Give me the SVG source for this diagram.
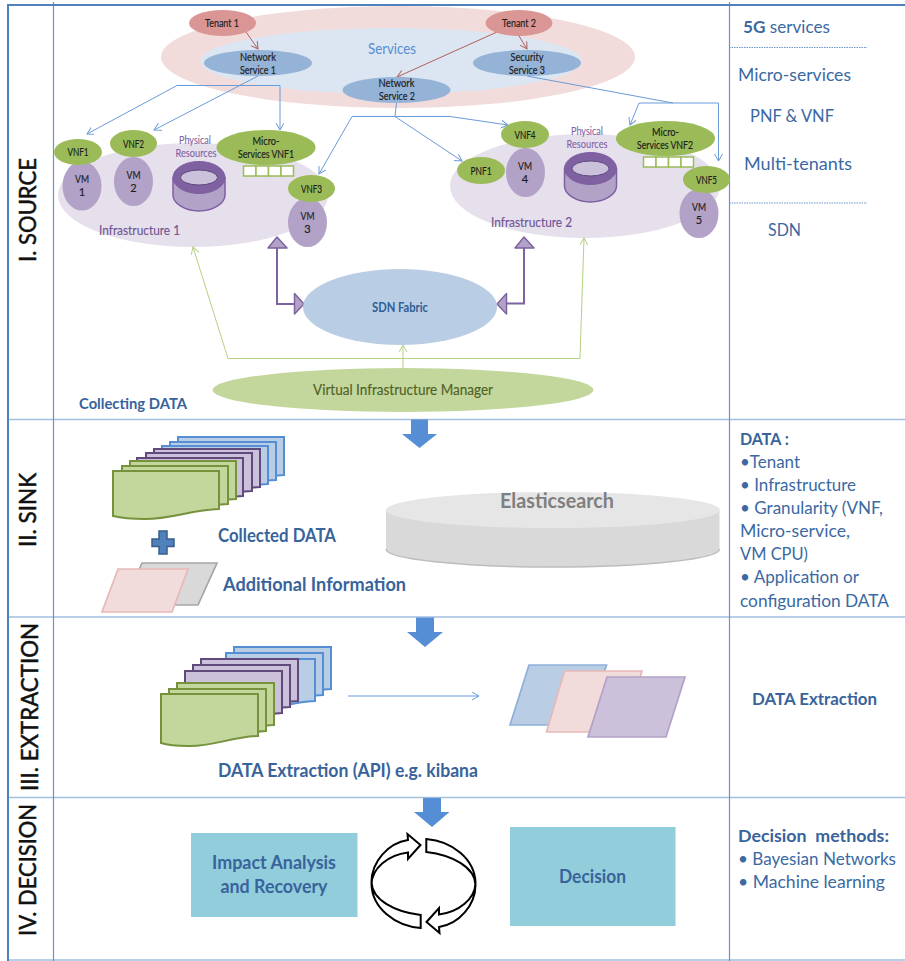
<svg xmlns="http://www.w3.org/2000/svg" xmlns:xlink="http://www.w3.org/1999/xlink" width="905" height="961" viewBox="0 0 905 961">
<style>
text{font-family:"Lato","Liberation Sans",sans-serif}
.sm{font-size:11px;fill:#1d1d1d;stroke:#1d1d1d;stroke-width:.18;text-anchor:middle}
.ph{font-size:11px;fill:#8063a5;stroke:#8063a5;stroke-width:.1;text-anchor:middle}
.inf{font-size:14px;fill:#6f5495;stroke:#6f5495;stroke-width:.15}
.title{font-size:24px;fill:#111;stroke:#111;stroke-width:.5}
.side{font-size:17.500px;fill:#3a69a3}
.bold{font-weight:700;fill:#38639b}
.vm{fill:#B3A2C7}
.vnf{fill:#9BBB59}
.ns{fill:#95B3D7}
.tenant{fill:#D99694}
.cell{fill:#fff;stroke:#9BBB59;stroke-width:1.5}
.grid{stroke:#6b93c8;stroke-width:1.2;fill:none}
.hgrid{stroke:#a3bfe0;stroke-width:1.5;fill:none}
.dot{stroke:#6b93c8;stroke-width:1;stroke-dasharray:1.5 1;fill:none}
.blue{stroke:#6a9bd8;stroke-width:1;fill:none}
.red{stroke:#b0605e;stroke-width:1;fill:none}
.green{stroke:#b5d184;stroke-width:1;fill:none}
.pur{stroke:#7d63a0;stroke-width:2;fill:none}
.tri{fill:#B3A2C7;stroke:#7d63a0;stroke-width:1.5;stroke-linejoin:round}
.block{fill:#558ED5}
.dg{fill:#C3D69B;stroke:#76923C;stroke-width:2}
.dp{fill:#CCC1DA;stroke:#604A7B;stroke-width:2}
.db{fill:#B9CDE5;stroke:#558ED5;stroke-width:2}
.loop{fill:none;stroke:#000;stroke-width:2;stroke-linejoin:miter}
</style>
<defs>
<marker id="ab" markerUnits="userSpaceOnUse" markerWidth="10" markerHeight="10" refX="7" refY="4" orient="auto"><path d="M0,0L7,4L0,8" fill="none" stroke="#6a9bd8" stroke-width="1"/></marker>
<marker id="ar" markerUnits="userSpaceOnUse" markerWidth="10" markerHeight="10" refX="7" refY="4" orient="auto"><path d="M0,0L7,4L0,8" fill="none" stroke="#b0605e" stroke-width="1"/></marker>
<marker id="ag" markerUnits="userSpaceOnUse" markerWidth="10" markerHeight="10" refX="7" refY="4" orient="auto"><path d="M0,0L7,4L0,8" fill="none" stroke="#b5d184" stroke-width="1"/></marker>
<path id="doc1" d="M0,0H106V38C78,39 58,48 32,48C18,48 8,47 0,45Z"/>
<path id="doc2" d="M0,0H97V42C70,43 50,53 27,52C15,52 6,51 0,49Z"/>
<g id="cyl">
<path d="M-26,0V17.500C-26,26 -14,33.500 0,33.500C14,33.500 26,26 26,17.500V0Z" fill="#B3A2C7" stroke="#7d5fa2" stroke-width="1.500"/>
<ellipse rx="26" ry="16" fill="#7F60A0" stroke="#7d5fa2"/>
<ellipse rx="18.500" ry="7.500" fill="#CCC1DA" stroke="#5f4a80"/>
</g>
<g id="cells">
<rect width="12.500" height="10" class="cell"/><rect x="12.500" width="12.500" height="10" class="cell"/><rect x="25" width="12.500" height="10" class="cell"/><rect x="37.500" width="12.500" height="10" class="cell"/>
</g>
<path id="loopArrow" class="loop" d="M420.700,915C395,912 372,900 371.500,882C371.500,862 388,843 408,840L407.500,834L420.500,845L408,859L408,852.500C388,855 372,868 371.500,884C372,908 395,926 420.700,928Z"/>
</defs>

<rect width="905" height="961" fill="#fff"/>

<g id="frame">
<path class="hgrid" d="M8,419.500H905M8,617H905M8,797.500H905M8,960H905"/>
<path class="grid" d="M53.500,2V961M729.500,2V961"/>
<path d="M8,5H905M8,4V961" fill="none" stroke="#4f81bd" stroke-width="2"/>
<path class="dot" d="M729,47.500H867M729,203H867"/>
</g>

<g id="services-layer">
<ellipse cx="398" cy="57" rx="237" ry="51" fill="#F2DCDB"/>
<ellipse cx="391" cy="61" rx="191" ry="33" fill="#DCE6F2"/>
<text x="392" y="54" font-size="15" fill="#558ed5" text-anchor="middle" textLength="48" lengthAdjust="spacingAndGlyphs">Services</text>
</g>

<g id="infra1">
<ellipse cx="193" cy="195" rx="135" ry="52" fill="#E6E0EC"/>
<text class="inf" x="99" y="235" textLength="81" lengthAdjust="spacingAndGlyphs">Infrastructure 1</text>
</g>
<g id="infra2">
<ellipse cx="585" cy="186" rx="135" ry="52" fill="#E6E0EC"/>
<text class="inf" x="491" y="226.500" textLength="81" lengthAdjust="spacingAndGlyphs">Infrastructure 2</text>
</g>

<g id="connectors">
<path class="red" marker-end="url(#ar)" d="M246,32L258,49"/>
<path class="red" marker-end="url(#ar)" d="M497,32L397,77"/>
<path class="red" marker-end="url(#ar)" d="M519,36L527,49"/>
<path class="blue" marker-end="url(#ab)" d="M258,76L154,130"/>
<path class="blue" marker-end="url(#ab)" d="M232,85.500H177L87,134"/>
<path class="blue" marker-end="url(#ab)" d="M232,85.500H280V130"/>
<path class="blue" d="M396.500,103L395,116.500"/>
<path class="blue" marker-end="url(#ab)" d="M395,116.500H352L319,174"/>
<path class="blue" marker-end="url(#ab)" d="M395,116.500H450L508,125"/>
<path class="blue" marker-end="url(#ab)" d="M395,116.500L462,161"/>
<path class="blue" d="M527,76L673,103"/>
<path class="blue" marker-end="url(#ab)" d="M673,103H639L630,125"/>
<path class="blue" marker-end="url(#ab)" d="M673,103H718.500V161"/>
<path class="green" marker-end="url(#ag)" d="M228,358.500L193,247"/>
<path class="green" marker-end="url(#ag)" d="M228,358.500H580L584,238"/>
<path class="green" marker-end="url(#ag)" d="M403,368V345"/>
<path class="pur" d="M277,248V304H294"/>
<path class="pur" d="M524,248V303.500H507"/>
<path class="tri" d="M277,237L287,248H268Z"/>
<path class="tri" d="M304,304L294.500,314V293.500Z"/>
<path class="tri" d="M524,237L534,248H515Z"/>
<path class="tri" d="M497,304L506.500,293.500V314Z"/>
<path class="blue" marker-end="url(#ab)" d="M348,696H479"/>
</g>

<g id="tenant1"><ellipse class="tenant" cx="222.500" cy="23" rx="33.500" ry="13"/><text class="sm" x="222" y="27" textLength="34" lengthAdjust="spacingAndGlyphs">Tenant 1</text></g>
<g id="tenant2"><ellipse class="tenant" cx="519" cy="23" rx="33.500" ry="13"/><text class="sm" x="519" y="27" textLength="34" lengthAdjust="spacingAndGlyphs">Tenant 2</text></g>
<g id="ns1"><ellipse class="ns" cx="258" cy="63" rx="54" ry="13"/><text class="sm" x="258" y="60.500" textLength="36" lengthAdjust="spacingAndGlyphs">Network</text><text class="sm" x="258" y="73.500" textLength="36" lengthAdjust="spacingAndGlyphs">Service 1</text></g>
<g id="ns2"><ellipse class="ns" cx="396.500" cy="90" rx="54" ry="13"/><text class="sm" x="396.500" y="87" textLength="36" lengthAdjust="spacingAndGlyphs">Network</text><text class="sm" x="397" y="100" textLength="36" lengthAdjust="spacingAndGlyphs">Service 2</text></g>
<g id="ss3"><ellipse class="ns" cx="527" cy="63" rx="54" ry="13"/><text class="sm" x="527" y="60.500" textLength="33" lengthAdjust="spacingAndGlyphs">Security</text><text class="sm" x="527" y="73.500" textLength="36" lengthAdjust="spacingAndGlyphs">Service 3</text></g>

<g id="vm1"><ellipse class="vm" cx="82" cy="186" rx="19.500" ry="24.500"/><text class="sm" x="82" y="183" textLength="14" lengthAdjust="spacingAndGlyphs">VM</text><text class="sm" x="82" y="196">1</text></g>
<g id="vnf1"><ellipse class="vnf" cx="78" cy="152" rx="24" ry="13"/><text class="sm" x="78" y="156" textLength="21" lengthAdjust="spacingAndGlyphs">VNF1</text></g>
<g id="vm2"><ellipse class="vm" cx="133.500" cy="181.500" rx="19.500" ry="24.500"/><text class="sm" x="133.500" y="179" textLength="14" lengthAdjust="spacingAndGlyphs">VM</text><text class="sm" x="133.500" y="192">2</text></g>
<g id="vnf2"><ellipse class="vnf" cx="133.500" cy="143.500" rx="23.500" ry="13.500"/><text class="sm" x="133.500" y="147.500" textLength="21" lengthAdjust="spacingAndGlyphs">VNF2</text></g>
<g id="phys1"><use xlink:href="#cyl" href="#cyl" x="199" y="177.500"/><text class="ph" x="195" y="143.500" textLength="32" lengthAdjust="spacingAndGlyphs">Physical</text><text class="ph" x="196" y="156.500" textLength="41" lengthAdjust="spacingAndGlyphs">Resources</text></g>
<g id="micro1"><ellipse class="vnf" cx="266" cy="147.500" rx="49.500" ry="17.500"/><text class="sm" x="266" y="145" textLength="27" lengthAdjust="spacingAndGlyphs">Micro-</text><text class="sm" x="266" y="158" textLength="56" lengthAdjust="spacingAndGlyphs">Services VNF1</text><use xlink:href="#cells" href="#cells" x="243.500" y="166"/></g>
<g id="vm3"><ellipse class="vm" cx="307.500" cy="222.500" rx="19.500" ry="24.500"/><text class="sm" x="307.500" y="220" textLength="14" lengthAdjust="spacingAndGlyphs">VM</text><text class="sm" x="307.500" y="233">3</text></g>
<g id="vnf3"><ellipse class="vnf" cx="311.500" cy="188.500" rx="23.500" ry="13.500"/><text class="sm" x="311.500" y="192.500" textLength="21" lengthAdjust="spacingAndGlyphs">VNF3</text></g>

<g id="pnf1"><ellipse class="vnf" cx="481" cy="170.500" rx="24" ry="13.500"/><text class="sm" x="481" y="174.500" textLength="21" lengthAdjust="spacingAndGlyphs">PNF1</text></g>
<g id="vm4"><ellipse class="vm" cx="525.500" cy="172.500" rx="19.500" ry="24.500"/><text class="sm" x="525" y="170" textLength="14" lengthAdjust="spacingAndGlyphs">VM</text><text class="sm" x="525" y="183">4</text></g>
<g id="vnf4"><ellipse class="vnf" cx="525" cy="134.500" rx="24" ry="13.500"/><text class="sm" x="525" y="138.500" textLength="21" lengthAdjust="spacingAndGlyphs">VNF4</text></g>
<g id="phys2"><use xlink:href="#cyl" href="#cyl" x="590.500" y="168.500"/><text class="ph" x="587" y="134.500" textLength="32" lengthAdjust="spacingAndGlyphs">Physical</text><text class="ph" x="587" y="147.500" textLength="41" lengthAdjust="spacingAndGlyphs">Resources</text></g>
<g id="micro2"><ellipse class="vnf" cx="665.500" cy="138.500" rx="49.500" ry="17.500"/><text class="sm" x="665.500" y="136" textLength="27" lengthAdjust="spacingAndGlyphs">Micro-</text><text class="sm" x="665" y="149" textLength="56" lengthAdjust="spacingAndGlyphs">Services VNF2</text><use xlink:href="#cells" href="#cells" x="643.500" y="157"/></g>
<g id="vm5"><ellipse class="vm" cx="699" cy="213.500" rx="19.500" ry="24.500"/><text class="sm" x="699" y="211" textLength="14" lengthAdjust="spacingAndGlyphs">VM</text><text class="sm" x="699" y="224">5</text></g>
<g id="vnf5"><ellipse class="vnf" cx="706.500" cy="179.500" rx="23.500" ry="13.500"/><text class="sm" x="706.500" y="183.500" textLength="21" lengthAdjust="spacingAndGlyphs">VNF5</text></g>

<g id="sdn"><ellipse cx="400" cy="307" rx="97" ry="38" fill="#B9CDE5"/><text x="400" y="311.500" font-size="14" font-weight="700" fill="#2f5f95" text-anchor="middle" textLength="56" lengthAdjust="spacingAndGlyphs">SDN Fabric</text></g>
<g id="vim"><ellipse cx="403" cy="390" rx="190.500" ry="22" fill="#C3D69B"/><text x="313" y="395" font-size="15.500" fill="#4f6228" stroke="#4f6228" stroke-width=".15" textLength="180" lengthAdjust="spacingAndGlyphs">Virtual Infrastructure Manager</text></g>
<text id="collecting" x="79" y="409" font-size="15.500" class="bold" textLength="108" lengthAdjust="spacingAndGlyphs">Collecting  DATA</text>

<g id="titles">
<text class="title" transform="translate(36,262) rotate(-90)" textLength="104" lengthAdjust="spacingAndGlyphs">I. SOURCE</text>
<text class="title" transform="translate(36,547) rotate(-90)" textLength="74" lengthAdjust="spacingAndGlyphs">II. SINK</text>
<text class="title" transform="translate(38,791) rotate(-90)" textLength="168" lengthAdjust="spacingAndGlyphs">III. EXTRACTION</text>
<text class="title" transform="translate(36,936) rotate(-90)" textLength="132" lengthAdjust="spacingAndGlyphs">IV. DECISION</text>
</g>

<g id="side-source">
<text class="side" x="743" y="32.500" textLength="87" lengthAdjust="spacingAndGlyphs"><tspan font-weight="700">5G</tspan> services</text>
<text class="side" x="738" y="80.500" textLength="113" lengthAdjust="spacingAndGlyphs">Micro-services</text>
<text class="side" x="750" y="122" textLength="84" lengthAdjust="spacingAndGlyphs">PNF &amp; VNF</text>
<text class="side" x="744" y="170" textLength="108" lengthAdjust="spacingAndGlyphs">Multi-tenants</text>
<text class="side" x="768" y="236" textLength="33" lengthAdjust="spacingAndGlyphs">SDN</text>
</g>

<g id="block-arrows">
<path class="block" d="M411,419.500H428V434H437L419.500,448L402,434H411Z"/>
<path class="block" d="M416,617.500H434V632H443L425,647L407,632H416Z"/>
<path class="block" d="M423,798H441V812H449.500L432,827L414,812H423Z"/>
</g>

<g id="collected-stack">
<use xlink:href="#doc1" href="#doc1" class="db" x="178" y="437"/>
<use xlink:href="#doc1" href="#doc1" class="db" x="170" y="442"/>
<use xlink:href="#doc1" href="#doc1" class="db" x="162" y="446"/>
<use xlink:href="#doc1" href="#doc1" class="dp" x="154" y="449"/>
<use xlink:href="#doc1" href="#doc1" class="dp" x="146" y="453"/>
<use xlink:href="#doc1" href="#doc1" class="dp" x="137" y="458"/>
<use xlink:href="#doc1" href="#doc1" class="dg" x="130" y="461"/>
<use xlink:href="#doc1" href="#doc1" class="dg" x="122" y="466"/>
<use xlink:href="#doc1" href="#doc1" class="dg" x="113" y="471"/>
<text x="218" y="542" font-size="18" class="bold" textLength="118" lengthAdjust="spacingAndGlyphs">Collected DATA</text>
</g>
<g id="plus"><path d="M159,531H167V539H174V546.500H167V554H159V546.500H152V539H159Z" fill="#4F81BD" stroke="#385D8A" stroke-width="1.500"/></g>
<g id="additional">
<path d="M142,563H217L198,605H123Z" fill="#D9D9D9" stroke="#a6a6a6" stroke-width="1.700"/>
<path d="M118,569H188L172,612H102Z" fill="#F2DCDB" stroke="#E6B9B8" stroke-width="1.700"/>
<text x="223" y="591" font-size="18" class="bold" textLength="183" lengthAdjust="spacingAndGlyphs">Additional Information</text>
</g>
<g id="elasticsearch">
<path d="M386,510V549C386,559 461,567 553,567C645,567 719.500,559 719.500,549V510Z" fill="#D9D9D9"/>
<path d="M386,549C386,559 461,567 553,567C645,567 719.500,559 719.500,549" fill="none" stroke="#bcbcbc" stroke-width="1.500"/>
<ellipse cx="553" cy="510" rx="167" ry="18" fill="#E6E6E6"/>
<text x="500" y="508" font-size="20" font-weight="700" fill="#7f7f7f" textLength="114" lengthAdjust="spacingAndGlyphs">Elasticsearch</text>
</g>
<g id="side-sink">
<text class="side bold" x="740" y="445" textLength="49" lengthAdjust="spacingAndGlyphs">DATA :</text>
<text class="side" x="740" y="468" textLength="60" lengthAdjust="spacingAndGlyphs">•Tenant</text>
<text class="side" x="740" y="491" textLength="116" lengthAdjust="spacingAndGlyphs">• Infrastructure</text>
<text class="side" x="740" y="514" textLength="143" lengthAdjust="spacingAndGlyphs">• Granularity (VNF,</text>
<text class="side" x="740" y="537" textLength="110" lengthAdjust="spacingAndGlyphs">Micro-service,</text>
<text class="side" x="740" y="560" textLength="68" lengthAdjust="spacingAndGlyphs">VM CPU)</text>
<text class="side" x="740" y="583" textLength="119" lengthAdjust="spacingAndGlyphs">• Application or</text>
<text class="side" x="740" y="607" textLength="149" lengthAdjust="spacingAndGlyphs">configuration DATA</text>
</g>

<g id="extraction-stack">
<use xlink:href="#doc2" href="#doc2" class="db" x="234" y="647"/>
<use xlink:href="#doc2" href="#doc2" class="db" x="226" y="653"/>
<use xlink:href="#doc2" href="#doc2" class="db" x="218" y="659"/>
<use xlink:href="#doc2" href="#doc2" class="dp" x="201" y="659"/>
<use xlink:href="#doc2" href="#doc2" class="dp" x="193" y="665"/>
<use xlink:href="#doc2" href="#doc2" class="dp" x="185" y="671"/>
<use xlink:href="#doc2" href="#doc2" class="dg" x="177" y="683"/>
<use xlink:href="#doc2" href="#doc2" class="dg" x="169" y="689"/>
<use xlink:href="#doc2" href="#doc2" class="dg" x="161" y="694"/>
<text x="218" y="777" font-size="18" class="bold" textLength="260" lengthAdjust="spacingAndGlyphs">DATA Extraction (API) e.g. kibana</text>
</g>
<g id="extraction-output">
<path d="M529,665H606.500L587,725H510Z" fill="#B9CDE5" stroke="#8eb0d9" stroke-width="1.700"/>
<path d="M564.500,671H642L622.500,732H546.500Z" fill="#F2DCDB" stroke="#E6B9B8" stroke-width="1.700"/>
<path d="M607,677H685L666,737H588Z" fill="#CCC1DA" stroke="#B3A2C7" stroke-width="1.700"/>
</g>
<text id="side-extraction" class="side bold" x="752" y="705" textLength="125" lengthAdjust="spacingAndGlyphs">DATA Extraction</text>

<g id="impact"><rect x="191" y="833" width="166.500" height="84" fill="#92CDDC"/>
<text x="274" y="869" font-size="18" class="bold" text-anchor="middle" textLength="124" lengthAdjust="spacingAndGlyphs">Impact Analysis</text>
<text x="274" y="893" font-size="18" class="bold" text-anchor="middle" textLength="107" lengthAdjust="spacingAndGlyphs">and Recovery</text></g>
<g id="cycle"><use xlink:href="#loopArrow" href="#loopArrow"/><use xlink:href="#loopArrow" href="#loopArrow" transform="rotate(180 423.500 883.500)"/></g>
<g id="decision"><rect x="510" y="827" width="165.500" height="99" fill="#92CDDC"/>
<text x="592.500" y="883" font-size="18" class="bold" text-anchor="middle" textLength="67" lengthAdjust="spacingAndGlyphs">Decision</text></g>
<g id="side-decision">
<text class="side bold" x="738" y="842" textLength="151" lengthAdjust="spacingAndGlyphs" xml:space="preserve">Decision  methods:</text>
<text class="side" x="738" y="865" textLength="158" lengthAdjust="spacingAndGlyphs">• Bayesian Networks</text>
<text class="side" x="738" y="888" textLength="147" lengthAdjust="spacingAndGlyphs">• Machine learning</text>
</g>
</svg>
